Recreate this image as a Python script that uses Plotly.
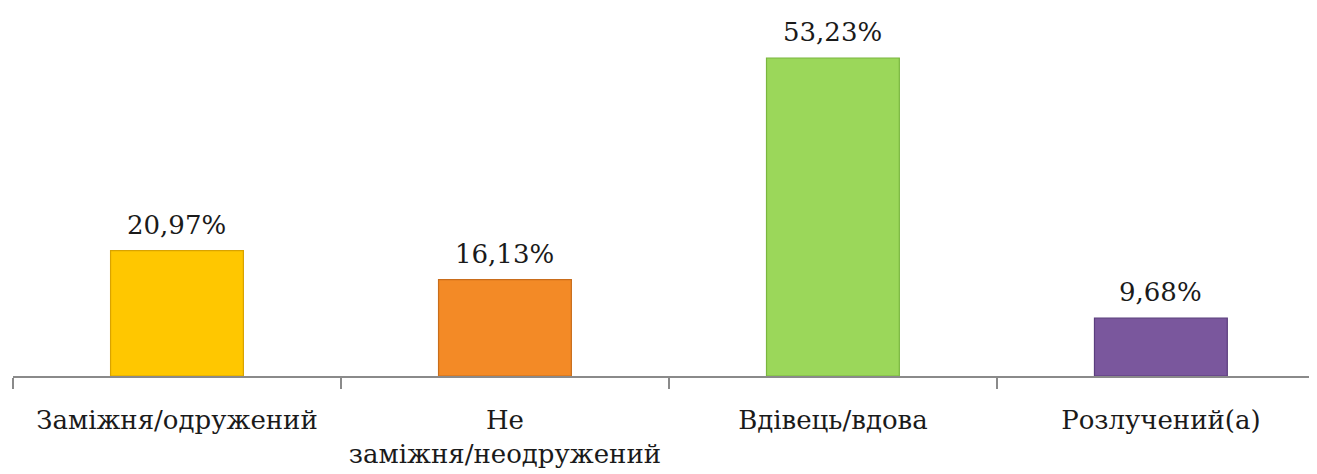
import plotly.graph_objects as go

categories = ["Заміжня/одружений", "Не<br>заміжня/неодружений", "Вдівець/вдова", "Розлучений(а)"]
values = [20.97, 16.13, 53.23, 9.68]
colors = ["#FFC700", "#F38A26", "#9BD75A", "#7A579D"]
line_colors = ["#D9A300", "#C96D1B", "#7AB63E", "#5B3D7E"]

labels = [f"{v:.2f}%".replace(".", ",") for v in values]

FONT = "DejaVu Serif"
FSIZE = 26

fig = go.Figure()
fig.add_trace(go.Bar(
    x=categories,
    y=values,
    width=0.405,
    marker=dict(color=colors, line=dict(color=line_colors, width=1.2)),
    hoverinfo="skip",
))

for cat, v, lab in zip(categories, values, labels):
    fig.add_annotation(
        x=cat, y=v, text=lab, showarrow=False,
        yanchor="bottom", yshift=9,
        font=dict(family=FONT, size=FSIZE, color="#1a1a1a"),
    )

fig.update_layout(
    width=1309, height=466,
    margin=dict(l=5, r=0, t=0, b=98),
    paper_bgcolor="white", plot_bgcolor="white",
    showlegend=False,
    font=dict(family=FONT, size=FSIZE, color="#1a1a1a"),
    xaxis=dict(
        type="category",
        range=[-0.5, 3.476],
        showline=True, linecolor="#8a8a8a", linewidth=1.5,
        ticks="outside", tickson="boundaries", ticklen=11, tickcolor="#8a8a8a", tickwidth=1.5,
        showgrid=False, zeroline=False,
        tickfont=dict(family=FONT, size=FSIZE, color="#1a1a1a"),
        ticklabelstandoff=20,
    ),
    yaxis=dict(
        range=[0, 61.6], visible=False, showgrid=False, zeroline=False,
    ),
)

fig.write_html("out.html")
